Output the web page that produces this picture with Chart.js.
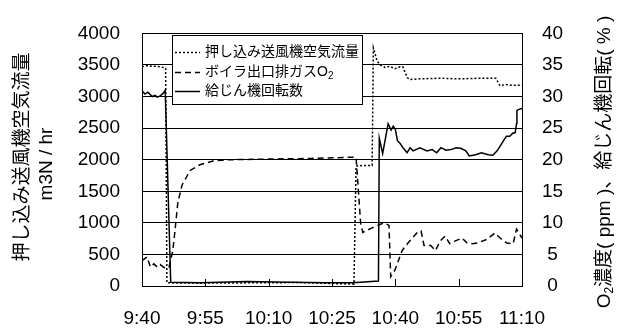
<!DOCTYPE html>
<html>
<head>
<meta charset="utf-8">
<script src="https://cdn.jsdelivr.net/npm/chart.js@4/dist/chart.umd.min.js"></script>
<style>
  html, body { margin: 0; padding: 0; background: #fff; }
  #wrap { width: 626px; height: 329px; position: relative; }
</style>
</head>
<body>
<div id="wrap"><canvas id="c" width="626" height="329"></canvas></div>
<script>
// Time axis: minutes after 9:40, labelled every 15 minutes
const timeLabels = ['9:40', '9:55', '10:10', '10:25', '10:40', '10:55', '11:10'];

// 押し込み送風機空気流量 (m3N/hr, left axis)
const airTime = [0, 1.2, 2.4, 3.6, 4.3, 5.2, 5.6, 5.9, 13.7, 25.6, 37.4, 44.5, 50.2, 50.7, 52.8, 54.5, 54.8, 55.7, 56.4, 57.6, 58.7, 59.9, 61.1, 61.8, 62.8, 63.5, 65.8, 70.6, 75.3, 80.1, 83.8, 84.8, 86.0, 87.6, 90];
const airFlow = [3470, 3490, 3480, 3480, 3470, 3460, 3450, 50, 45, 50, 55, 40, 30, 1900, 1910, 1910, 3770, 3560, 3500, 3460, 3480, 3440, 3470, 3470, 3300, 3270, 3280, 3290, 3280, 3290, 3290, 3170, 3190, 3180, 3180];

// ボイラ出口排ガスO2 (right axis)
const o2Time = [0, 1.2, 2.0, 2.8, 3.6, 4.3, 5.5, 6.4, 7.3, 7.8, 8.5, 9.5, 11.4, 13.7, 16.8, 20.8, 30, 40, 50, 50.7, 51.8, 52.3, 54.5, 57.3, 58.5, 58.9, 59.9, 61.6, 63.0, 65.1, 66.1, 66.8, 68.4, 69.5, 70.6, 71.8, 72.9, 74.1, 75.8, 77.0, 78.2, 79.4, 81.7, 83.6, 84.8, 86.4, 87.9, 88.7, 90];
const o2Conc = [4.0, 4.6, 3.0, 3.5, 3.0, 3.4, 2.8, 3.0, 5.6, 8.7, 13.3, 16.0, 18.3, 19.2, 19.8, 20.0, 20.1, 20.2, 20.4, 20.4, 9.8, 8.5, 9.2, 10.0, 9.6, 1.5, 2.5, 5.6, 6.8, 8.4, 8.7, 6.4, 6.4, 5.6, 7.1, 7.9, 6.7, 7.1, 7.6, 6.8, 6.7, 6.8, 7.4, 8.4, 7.6, 6.8, 6.7, 9.0, 7.6];

// 給じん機回転数 (%, right axis)
const feedTime = [0, 0.7, 1.4, 2.4, 3.1, 3.6, 4.3, 5.0, 5.5, 6.8, 13.7, 25, 35, 44, 50, 56.0, 56.2, 57.0, 58.3, 59.0, 59.5, 60.0, 60.5, 61.1, 61.8, 62.8, 63.5, 64.2, 65.8, 67.5, 68.7, 69.8, 70.8, 72.0, 73.2, 74.4, 75.5, 76.7, 77.5, 79.0, 80.4, 82.0, 83.1, 84.1, 84.6, 85.7, 86.3, 87.1, 87.8, 88.4, 88.7, 88.8, 89.4, 90];
const feedRate = [30.9, 30.4, 30.7, 30.0, 30.2, 29.9, 30.1, 30.5, 31.0, 0.6, 0.5, 0.7, 0.6, 0.5, 0.5, 0.8, 23.4, 21.0, 25.7, 24.7, 25.3, 24.8, 23.0, 22.6, 21.9, 21.1, 21.9, 21.4, 21.9, 21.4, 21.6, 21.1, 21.9, 21.5, 21.6, 21.9, 21.8, 21.4, 20.6, 20.8, 21.1, 20.8, 20.7, 21.4, 21.9, 23.1, 23.7, 23.7, 24.2, 24.3, 25.7, 27.8, 28.0, 28.1];

const seriesNames = ['押し込み送風機空気流量', 'ボイラ出口排ガスO', '給じん機回転数'];

const toXY = (xs, ys) => xs.map((x, i) => ({ x: x, y: ys[i] }));

const LATIN = '"Liberation Sans", Arial, sans-serif';
const MIXED = '"Liberation Sans", "Noto Sans CJK JP", sans-serif';

Chart.defaults.font.family = LATIN;
Chart.defaults.font.size = 19;
Chart.defaults.color = '#000';

// Frame, inner tick marks, axis titles and the boxed legend
const decorations = {
  id: 'decorations',
  afterDraw(chart) {
    const ctx = chart.ctx;
    const a = chart.chartArea;
    const xs = chart.scales.x;
    ctx.save();

    // plot frame
    ctx.strokeStyle = '#000';
    ctx.lineWidth = 1;
    ctx.strokeRect(Math.round(a.left) + 0.5, Math.round(a.top) + 0.5,
                   Math.round(a.right - a.left), Math.round(a.bottom - a.top));

    // short tick marks pointing into the plot from the bottom edge
    xs.ticks.forEach(t => {
      const px = Math.round(xs.getPixelForValue(t.value)) + 0.5;
      ctx.beginPath();
      ctx.moveTo(px, a.bottom);
      ctx.lineTo(px, a.bottom - 7);
      ctx.stroke();
    });

    ctx.fillStyle = '#000';
    ctx.textBaseline = 'middle';

    // left axis title (two lines, reading upward)
    ctx.save();
    ctx.translate(23, 157);
    ctx.rotate(-Math.PI / 2);
    ctx.textAlign = 'center';
    ctx.font = '19px ' + MIXED;
    ctx.fillText('押し込み送風機空気流量', 0, 0);
    ctx.restore();
    ctx.save();
    ctx.translate(47, 164);
    ctx.rotate(-Math.PI / 2);
    ctx.textAlign = 'center';
    ctx.font = '19px ' + MIXED;
    ctx.fillText('m3N / hr', 0, 0);
    ctx.restore();

    // right axis title with subscript 2, reading upward
    ctx.save();
    ctx.translate(605, 162);
    ctx.rotate(-Math.PI / 2);
    ctx.textAlign = 'left';
    const big = '19px ' + MIXED, small = '12px ' + LATIN;
    const rest = '濃度( ppm )、給じん機回転( % )';
    ctx.font = big; const wO = ctx.measureText('O').width; const wR = ctx.measureText(rest).width;
    ctx.font = small; const w2 = ctx.measureText('2').width;
    let cx = -(wO + w2 + wR) / 2;
    ctx.font = big; ctx.fillText('O', cx, 0); cx += wO;
    ctx.font = small; ctx.fillText('2', cx, 5); cx += w2;
    ctx.font = big; ctx.fillText(rest, cx, 0);
    ctx.restore();

    // legend box
    const lx = 172, ly = 35, lw = 190, lh = 69;
    ctx.fillStyle = '#fff';
    ctx.fillRect(lx, ly, lw, lh);
    ctx.strokeStyle = '#000';
    ctx.lineWidth = 1;
    ctx.strokeRect(lx + 0.5, ly + 0.5, lw, lh);
    const rows = [52, 72, 91];
    chart.data.datasets.forEach((ds, i) => {
      const y = rows[i] + 0.5;
      ctx.save();
      ctx.strokeStyle = ds.borderColor;
      ctx.lineWidth = ds.borderWidth;
      ctx.setLineDash(ds.borderDash || []);
      ctx.beginPath();
      ctx.moveTo(175, y);
      ctx.lineTo(200, y);
      ctx.stroke();
      ctx.restore();
      ctx.fillStyle = '#000';
      ctx.textAlign = 'left';
      ctx.font = '14px ' + MIXED;
      ctx.fillText(ds.label, 205, rows[i]);
      if (i === 1) {
        const w = ctx.measureText(ds.label).width;
        ctx.font = '10px ' + LATIN;
        ctx.fillText('2', 205 + w, rows[i] + 4);
      }
    });
    ctx.restore();
  }
};

new Chart(document.getElementById('c'), {
  type: 'line',
  data: {
    datasets: [
      {
        label: seriesNames[0],
        data: toXY(airTime, airFlow),
        yAxisID: 'yL',
        borderColor: '#000',
        borderWidth: 1.5,
        borderDash: [2, 2],
        pointRadius: 0,
        tension: 0
      },
      {
        label: seriesNames[1],
        data: toXY(o2Time, o2Conc),
        yAxisID: 'yR',
        borderColor: '#000',
        borderWidth: 1.5,
        borderDash: [6, 4],
        pointRadius: 0,
        tension: 0
      },
      {
        label: seriesNames[2],
        data: toXY(feedTime, feedRate),
        yAxisID: 'yR',
        borderColor: '#000',
        borderWidth: 1.5,
        pointRadius: 0,
        tension: 0
      }
    ]
  },
  options: {
    responsive: false,
    animation: false,
    layout: { padding: { top: 28, left: 0, right: 0, bottom: 0 } },
    plugins: { legend: { display: false }, tooltip: { enabled: false } },
    scales: {
      x: {
        type: 'linear',
        min: 0,
        max: 90,
        afterBuildTicks(scale) {
          scale.ticks = timeLabels.map((_, i) => ({ value: i * 15 }));
        },
        afterFit(scale) { scale.height = 43; },
        ticks: {
          padding: 21,
          maxRotation: 0,
          autoSkip: false,
          callback: (v) => timeLabels[Math.round(v / 15)]
        },
        grid: { display: false, drawTicks: false },
        border: { display: false }
      },
      yL: {
        position: 'left',
        min: 0,
        max: 4000,
        afterFit(scale) { scale.width = 142; },
        ticks: { stepSize: 500, padding: 22, callback: (v) => String(v) },
        grid: { color: '#000', lineWidth: 1, drawTicks: false },
        border: { display: false }
      },
      yR: {
        position: 'right',
        min: 0,
        max: 40,
        afterFit(scale) { scale.width = 104; },
        ticks: { stepSize: 5, padding: 20, crossAlign: 'center', callback: (v) => String(v) },
        grid: { display: false, drawTicks: false },
        border: { display: false }
      }
    }
  },
  plugins: [decorations]
});
</script>
</body>
</html>
